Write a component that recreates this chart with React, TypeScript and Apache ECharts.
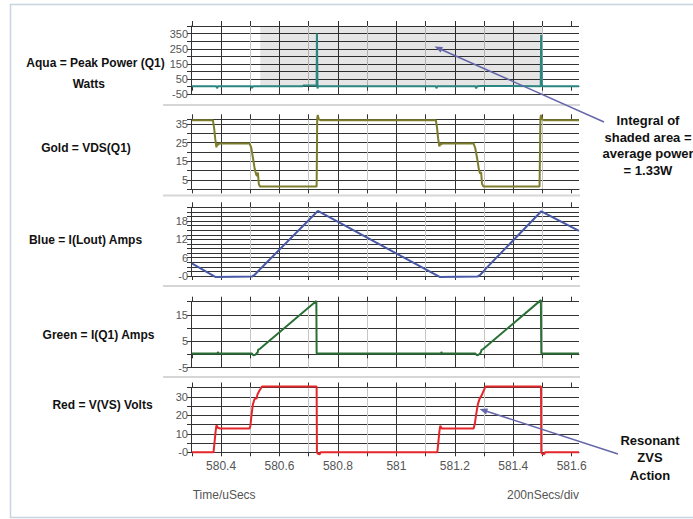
import React, { useEffect, useRef } from 'react';
import * as echarts from 'echarts';

// ---- Data (time in µs, values) ----
const timeMin = 580.297;
const timeMax = 581.625;
const xTickValues = [580.3, 580.4, 580.5, 580.6, 580.7, 580.8, 580.9, 581, 581.1, 581.2, 581.3, 581.4, 581.5, 581.6];
const xLabelValues = [580.4, 580.6, 580.8, 581, 581.2, 581.4, 581.6];

const panelLabels = [
  'Aqua = Peak Power (Q1)',
  'Gold = VDS(Q1)',
  'Blue = I(Lout) Amps',
  'Green = I(Q1) Amps',
  'Red = V(VS) Volts',
];

const shadeStart = 580.534;
const shadeEnd = 581.5;

const aquaPower = [
  [580.3, 3], [580.384, 3], [580.386, -10], [580.389, 3], [580.503, 3], [580.506, -9], [580.509, 3],
  [580.68, 3], [580.681, 8], [580.727, 8], [580.728, 350], [580.7295, 350], [580.73, -12], [580.732, 3],
  [581.135, 3], [581.137, -10], [581.14, 3], [581.27, 3], [581.273, -10], [581.276, 3], [581.29, 5],
  [581.494, 3], [581.4955, 342], [581.497, 342], [581.498, 3], [581.625, 3],
];

const goldVds = [
  [580.3, 37], [580.372, 37], [580.376, 33], [580.38, 27], [580.384, 22.5], [580.387, 24.5], [580.39, 23.8],
  [580.393, 24.6], [580.497, 24.6], [580.503, 22.5], [580.51, 16], [580.515, 11], [580.52, 8], [580.523, 7.2],
  [580.526, 9], [580.529, 3], [580.533, 1.5], [580.727, 1.5], [580.729, 38], [580.731, 39.8], [580.734, 37.6],
  [580.74, 37], [581.135, 37], [581.139, 33], [581.143, 27], [581.147, 23], [581.15, 24.8], [581.153, 24],
  [581.156, 24.6], [581.264, 24.6], [581.27, 22], [581.277, 16], [581.283, 10], [581.287, 8.5], [581.29, 9.3],
  [581.293, 3], [581.298, 1.5], [581.49, 1.5], [581.493, 38], [581.495, 39.8], [581.499, 37.5], [581.505, 37],
  [581.625, 37],
];

const blueILout = [
  [580.3, 4.1], [580.38, -0.3], [580.505, -0.2], [580.515, 0.4], [580.525, 1.4], [580.535, 2.4],
  [580.731, 21.3], [581.148, -0.3], [581.277, -0.2], [581.287, 0.4], [581.297, 1.4], [581.307, 2.5],
  [581.496, 21.2], [581.625, 14.8],
];

const greenIQ1 = [
  [580.3, 0.3], [580.388, 0.3], [580.389, 0.9], [580.391, 0.3], [580.505, 0.3], [580.511, -0.4],
  [580.518, -0.1], [580.522, 0.5], [580.525, 0.6], [580.527, 1.8], [580.532, 2.0], [580.726, 20.3],
  [580.727, 0.3], [581.153, 0.3], [581.154, 0.9], [581.156, 0.3], [581.27, 0.3], [581.276, -0.4],
  [581.282, -0.1], [581.288, 0.5], [581.292, 1.8], [581.297, 2.0], [581.4945, 20.6], [581.496, 0.3],
  [581.625, 0.3],
];

const redVVS = [
  [580.3, 0], [580.374, 0], [580.378, 6], [580.381, 11], [580.384, 14.5], [580.387, 14], [580.389, 13],
  [580.392, 13.3], [580.395, 12.8], [580.497, 12.8], [580.5, 14], [580.504, 20], [580.509, 26],
  [580.514, 28.5], [580.519, 29.3], [580.521, 28.8], [580.524, 31], [580.53, 33], [580.54, 35.5],
  [580.727, 35.5], [580.728, 0], [580.731, -0.8], [580.738, -1], [580.741, 0], [581.14, 0], [581.144, 6],
  [581.147, 11], [581.15, 14.3], [581.153, 13.5], [581.156, 12.8], [581.264, 12.8], [581.268, 15],
  [581.273, 20.5], [581.279, 26], [581.285, 29], [581.291, 30.5], [581.295, 32], [581.305, 35.5],
  [581.495, 35.5], [581.496, 0], [581.499, -0.8], [581.506, -1], [581.509, 0], [581.625, 0],
];

const seriesData = [aquaPower, goldVds, blueILout, greenIQ1, redVVS];
const seriesColors = ['#2b8580', '#7d7d2c', '#4858a6', '#2a7036', '#e5262b'];

const yScales = [
  { min: -50, max: 400, interval: 50, fmt: (v: number) => ((v + 50) % 100 === 0 && v < 400 ? String(v) : '') },
  { min: 0, max: 37.5, interval: 5, fmt: (v: number) => ([5, 15, 25, 35].includes(v) ? String(v) : '') },
  { min: 0, max: 22.5, interval: 1.5, fmt: (v: number) => (v % 6 === 0 ? (v === 0 ? '-0' : String(v)) : '') },
  { min: -5, max: 20, interval: 5, fmt: (v: number) => ((v + 5) % 10 === 0 && v < 20 ? String(v) : '') },
  { min: 0, max: 35, interval: 5, fmt: (v: number) => (v % 10 === 0 ? (v === 0 ? '-0' : String(v)) : '') },
];

// layout
const gridBoxes = [
  { top: 26, height: 68.3 },
  { top: 119.3, height: 70.1 },
  { top: 207.3, height: 68.7 },
  { top: 301.7, height: 65.8 },
  { top: 387.5, height: 64.8 },
];
const labelPos = [
  { x: 95.5, y: 63 },
  { x: 86, y: 148 },
  { x: 85.5, y: 240 },
  { x: 98.5, y: 335 },
  { x: 102.5, y: 405 },
];

const FONT = '"Liberation Sans", Arial, sans-serif';

function buildOption() {
  const grid: any[] = [];
  const xAxis: any[] = [];
  const yAxis: any[] = [];
  const series: any[] = [];
  gridBoxes.forEach((g, i) => {
    grid.push({ left: 191, width: 388, top: g.top, height: g.height });
    xAxis.push({
      type: 'value', gridIndex: i, min: timeMin, max: timeMax,
      axisLine: { show: true, lineStyle: { color: '#333', width: 1 } },
      axisTick: { show: true, length: 4, customValues: xTickValues, lineStyle: { color: '#333' } },
      axisLabel: {
        show: i === 4, customValues: xLabelValues, color: '#555', fontSize: 12, fontFamily: FONT, margin: 8,
        formatter: (v: number) => String(v),
      },
      splitLine: { show: true, showMinLine: false, showMaxLine: false, lineStyle: { color: ['#333', '#c6c6c6'], width: 1 } },
    });
    xAxis.push({
      type: 'value', gridIndex: i, position: 'top', min: timeMin, max: timeMax,
      axisLine: { show: false },
      axisTick: { show: true, length: 5, customValues: xTickValues, lineStyle: { color: '#333' } },
      axisLabel: { show: false },
      splitLine: { show: false },
    });
    const ys = yScales[i];
    yAxis.push({
      type: 'value', gridIndex: i, min: ys.min, max: ys.max, interval: ys.interval,
      axisLine: { show: true, lineStyle: { color: '#333', width: 1 } },
      axisTick: { show: true, length: 4, lineStyle: { color: '#333' } },
      axisLabel: { color: '#555', fontSize: 11, fontFamily: FONT, margin: 3, formatter: ys.fmt },
      splitLine: { show: true, lineStyle: { color: '#333', width: 1 } },
    });
    const s: any = {
      type: 'line', xAxisIndex: i * 2, yAxisIndex: i, data: seriesData[i], showSymbol: false,
      clip: false, lineStyle: { color: seriesColors[i], width: 2 }, itemStyle: { color: seriesColors[i] },
      silent: true,
    };
    if (i === 0) {
      s.markArea = {
        silent: true,
        itemStyle: { color: 'rgba(0,0,0,0.1)' },
        data: [[{ xAxis: shadeStart, yAxis: 0 }, { xAxis: shadeEnd, yAxis: 400 }]],
      };
    }
    series.push(s);
  });

  const graphics: any[] = [];
  graphics.push({
    type: 'rect', shape: { x: 10.5, y: 4.5, width: 690, height: 513 },
    style: { fill: 'none', stroke: '#c9d5de', lineWidth: 1.5 }, z: -1,
  });
  [105, 195.5, 286, 377].forEach((y) => {
    graphics.push({ type: 'line', shape: { x1: 163, y1: y, x2: 580, y2: y }, style: { stroke: '#d6d6d6', lineWidth: 2 } });
  });
  panelLabels.forEach((t, i) => {
    graphics.push({
      type: 'text', x: labelPos[i].x, y: labelPos[i].y,
      style: { text: t, fill: '#111', font: `bold 12px ${FONT}`, align: 'center', verticalAlign: 'middle' },
    });
  });
  graphics.push({
    type: 'text', x: 88.8, y: 83.5,
    style: { text: 'Watts', fill: '#111', font: `bold 12px ${FONT}`, align: 'center', verticalAlign: 'middle' },
  });
  graphics.push({
    type: 'text', x: 648, y: 145.5,
    style: {
      text: 'Integral of\nshaded area =\naverage power\n= 1.33W', fill: '#111', font: `bold 13px ${FONT}`,
      align: 'center', verticalAlign: 'middle', lineHeight: 16.5,
    },
  });
  graphics.push({
    type: 'text', x: 650, y: 457.7,
    style: {
      text: 'Resonant\nZVS\nAction', fill: '#111', font: `bold 13px ${FONT}`,
      align: 'center', verticalAlign: 'middle', lineHeight: 17.7,
    },
  });
  graphics.push({
    type: 'text', x: 192.7, y: 495,
    style: { text: 'Time/uSecs', fill: '#555', font: `12px ${FONT}`, align: 'left', verticalAlign: 'middle' },
  });
  graphics.push({
    type: 'text', x: 579, y: 495,
    style: { text: '200nSecs/div', fill: '#555', font: `12px ${FONT}`, align: 'right', verticalAlign: 'middle' },
  });
  const arrowColor = '#6666aa';
  graphics.push({ type: 'line', z: 100, shape: { x1: 604, y1: 122, x2: 440, y2: 49 }, style: { stroke: arrowColor, lineWidth: 1.5 } });
  graphics.push({ type: 'polygon', z: 100, shape: { points: [[434.5, 46.5], [443.0, 47.0], [440.6, 52.5]] }, style: { fill: arrowColor } });
  graphics.push({ type: 'line', z: 100, shape: { x1: 618, y1: 454, x2: 485, y2: 410.7 }, style: { stroke: arrowColor, lineWidth: 1.5 } });
  graphics.push({ type: 'polygon', z: 100, shape: { points: [[479.5, 409], [488.0, 408.6], [486.2, 414.4]] }, style: { fill: arrowColor } });

  return {
    animation: false,
    backgroundColor: '#fff',
    grid, xAxis, yAxis, series,
    graphic: { elements: graphics },
  };
}

export default function App() {
  const ref = useRef<HTMLDivElement>(null);
  useEffect(() => {
    document.body.style.margin = '0';
    const chart = echarts.init(ref.current!, null, { renderer: 'svg' });
    chart.setOption(buildOption() as any);
    return () => chart.dispose();
  }, []);
  return <div ref={ref} style={{ width: 693, height: 519, position: 'absolute', left: 0, top: 0 }} />;
}
